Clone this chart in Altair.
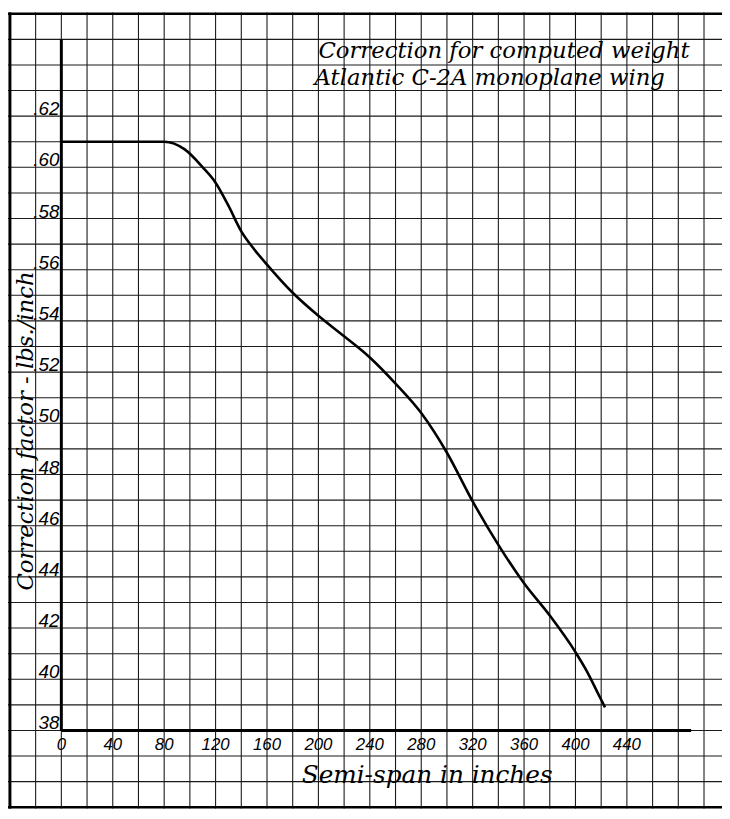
import altair as alt
import pandas as pd

# ---- data ----
span_in = [0, 40, 80, 96, 110, 120, 130, 140, 150, 160, 180, 200, 220, 240, 260,
           280, 300, 320, 340, 360, 380, 400, 409, 417, 423]
factor = [0.610, 0.610, 0.610, 0.607, 0.600, 0.594, 0.585, 0.575, 0.568, 0.562,
          0.551, 0.542, 0.534, 0.5257, 0.5155, 0.504, 0.4885, 0.4695, 0.4525,
          0.4375, 0.4249, 0.4106, 0.403, 0.395, 0.389]

x_tick_values = [0, 40, 80, 120, 160, 200, 240, 280, 320, 360, 400, 440]
x_tick_labels = ["0", "40", "80", "120", "160", "200", "240", "280", "320", "360", "400", "440"]
y_tick_values = [0.62, 0.60, 0.58, 0.56, 0.54, 0.52, 0.50, 0.48, 0.46, 0.44, 0.42, 0.40, 0.38]
y_tick_labels = [".62", ".60", ".58", ".56", ".54", ".52", ".50", "48", "46", "44", "42", "40", "38"]

x_grid = list(range(-40, 520, 20))
y_grid = [round(0.35 + 0.01 * i, 2) for i in range(32)]

title_lines = ["Correction for computed weight", "Atlantic C-2A monoplane wing"]
y_title = "Correction factor - lbs./inch"
x_title = "Semi-span in inches"

W, H = 722, 805
xs = alt.Scale(domain=[-41.5, 514], nice=False, zero=False)
ys = alt.Scale(domain=[0.3495, 0.6605], nice=False, zero=False)

curve_df = pd.DataFrame({"span": span_in, "factor": factor})
xg_df = pd.DataFrame({"g": x_grid})
yg_df = pd.DataFrame({"g": y_grid})
xt_df = pd.DataFrame({"v": x_tick_values, "t": x_tick_labels, "y": 0.38})
yt_df = pd.DataFrame({"v": y_tick_values, "t": y_tick_labels, "x": 0})

TXT = "DejaVu Serif"
NUM = "Liberation Sans"

vgrid = alt.Chart(xg_df).mark_rule(color="#1a1a1a", strokeWidth=1.1).encode(
    x=alt.X("g:Q", scale=xs, axis=None))
hgrid = alt.Chart(yg_df).mark_rule(color="#1a1a1a", strokeWidth=1.1).encode(
    y=alt.Y("g:Q", scale=ys, axis=None))

border_left = alt.Chart(pd.DataFrame({"x": [-40]})).mark_rule(color="black", strokeWidth=3).encode(
    x=alt.X("x:Q", scale=xs, axis=None))
border_tb = alt.Chart(pd.DataFrame({"y": [0.35, 0.66]})).mark_rule(color="black", strokeWidth=2.5).encode(
    y=alt.Y("y:Q", scale=ys, axis=None))

x_axis_line = alt.Chart(pd.DataFrame({"x": [0], "x2": [490], "y": [0.38]})).mark_rule(
    color="black", strokeWidth=3).encode(
    x=alt.X("x:Q", scale=xs, axis=None), x2="x2:Q", y=alt.Y("y:Q", scale=ys, axis=None))
y_axis_line = alt.Chart(pd.DataFrame({"x": [0], "y": [0.38], "y2": [0.65]})).mark_rule(
    color="black", strokeWidth=3).encode(
    x=alt.X("x:Q", scale=xs, axis=None), y=alt.Y("y:Q", scale=ys, axis=None), y2="y2:Q")

curve = alt.Chart(curve_df).mark_line(color="black", strokeWidth=2.6, interpolate="monotone").encode(
    x=alt.X("span:Q", scale=xs, axis=None), y=alt.Y("factor:Q", scale=ys, axis=None))

xticks = alt.Chart(xt_df).mark_text(font=NUM, fontStyle="italic", fontSize=17, baseline="top",
                                    align="center", dy=7, color="black").encode(
    x=alt.X("v:Q", scale=xs, axis=None), y=alt.Y("y:Q", scale=ys, axis=None), text="t:N")
yticks = alt.Chart(yt_df).mark_text(font=NUM, fontStyle="italic", fontSize=19, baseline="alphabetic",
                                    align="right", dx=-2, dy=-1, color="black").encode(
    x=alt.X("x:Q", scale=xs, axis=None), y=alt.Y("v:Q", scale=ys, axis=None), text="t:N")

title_df = pd.DataFrame({"t": title_lines, "x": [200, 197], "y": [0.6455, 0.6350]})
titles = alt.Chart(title_df).mark_text(font=TXT, fontStyle="italic", fontSize=23, align="left",
                                       baseline="middle", color="black").encode(
    x=alt.X("x:Q", scale=xs, axis=None), y=alt.Y("y:Q", scale=ys, axis=None), text="t:N")

ytitle = alt.Chart(pd.DataFrame({"t": [y_title], "x": [-27.7], "y": [0.497]})).mark_text(
    font=TXT, fontStyle="italic", fontSize=23, angle=270, align="center", baseline="middle",
    color="black").encode(
    x=alt.X("x:Q", scale=xs, axis=None), y=alt.Y("y:Q", scale=ys, axis=None), text="t:N")

xtitle = alt.Chart(pd.DataFrame({"t": [x_title], "x": [284.6], "y": [0.3624]})).mark_text(
    font=TXT, fontStyle="italic", fontSize=25, align="center", baseline="middle",
    color="black").encode(
    x=alt.X("x:Q", scale=xs, axis=None), y=alt.Y("y:Q", scale=ys, axis=None), text="t:N")

chart = alt.layer(vgrid, hgrid, border_left, border_tb, x_axis_line, y_axis_line, curve,
                  xticks, yticks, titles, ytitle, xtitle).properties(
    width=W, height=H, padding=0, background="white",
    autosize=alt.AutoSizeParams(type="none")
).configure_view(stroke=None)

chart.save("out.html", embed_options={"renderer": "svg", "actions": False})
